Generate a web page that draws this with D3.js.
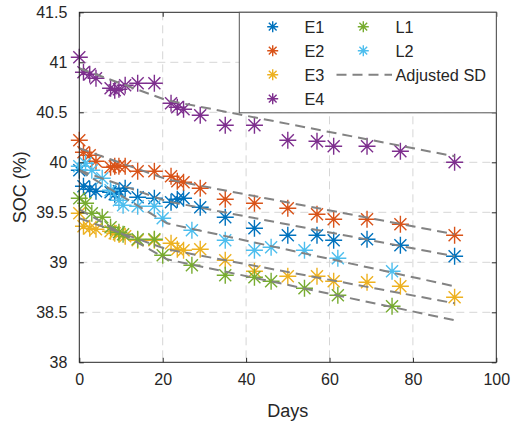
<!DOCTYPE html>
<html>
<head>
<meta charset="utf-8">
<script src="https://cdn.jsdelivr.net/npm/d3@7"></script>
<style>
    body { margin: 0; background: #fff; }
    text { font-family: "Liberation Sans", Arial, sans-serif; fill: #262626; }
</style>
</head>
<body>
<div id="chart"></div>
<script>

// Data ///////////////////////////////////////////////////////////////////////

const daysE = [0, 1, 2.5, 4, 7.5, 8.5, 9.5, 11, 14, 18, 22, 23.5, 25, 29, 35, 42, 50, 57, 61, 69, 77, 90];
const daysL = [0, 1.5, 3, 5.5, 7.5, 9.5, 10.5, 14, 18, 20, 27, 35, 42, 46, 54, 62, 75];

const socE1 = [39.92, 39.76, 39.73, 39.71, 39.70, 39.68, 39.71, 39.74, 39.65, 39.64, 39.60, 39.63, 39.64, 39.55, 39.45, 39.34, 39.27, 39.27, 39.22, 39.23, 39.17, 39.06];
const socE2 = [40.22, 40.10, 40.07, 40.01, 39.95, 39.96, 39.96, 39.96, 39.91, 39.91, 39.86, 39.81, 39.80, 39.74, 39.63, 39.59, 39.54, 39.48, 39.43, 39.43, 39.38, 39.27];
const socE3 = [39.49, 39.36, 39.34, 39.33, 39.31, 39.29, 39.28, 39.26, 39.22, 39.22, 39.19, 39.13, 39.12, 39.13, 39.02, 38.91, 38.86, 38.86, 38.81, 38.80, 38.76, 38.65];
const socE4 = [41.05, 40.90, 40.88, 40.84, 40.74, 40.72, 40.73, 40.77, 40.79, 40.79, 40.59, 40.55, 40.53, 40.47, 40.37, 40.37, 40.22, 40.21, 40.16, 40.16, 40.11, 40.00];
const socL1 = [39.64, 39.59, 39.49, 39.45, 39.35, 39.30, 39.28, 39.23, 39.23, 39.07, 38.97, 38.87, 38.85, 38.81, 38.74, 38.67, 38.56];
const socL2 = [39.96, 39.99, 39.92, 39.84, 39.72, 39.62, 39.57, 39.56, 39.56, 39.44, 39.32, 39.22, 39.12, 39.15, 39.12, 39.04, 38.91];

// Adjusted SD curves, read at these days
const sdDays = [0, 21, 90];
const sdE1 = [39.92, 39.61, 39.06];
const sdE2 = [40.14, 39.83, 39.28];
const sdE3 = [39.44, 39.13, 38.59];
const sdE4 = [40.94, 40.62, 40.06];
const sdL1 = [39.53, 39.03, 38.42];
const sdL2 = [39.92, 39.39, 38.76];

const xTicks = [0, 20, 40, 60, 80, 100];
const yTicks = [38, 38.5, 39, 39.5, 40, 40.5, 41, 41.5];

const series = [
    { name: "E1", days: daysE, soc: socE1, sd: sdE1, color: "#0072BD" },
    { name: "E2", days: daysE, soc: socE2, sd: sdE2, color: "#D95319" },
    { name: "E3", days: daysE, soc: socE3, sd: sdE3, color: "#EDB120" },
    { name: "E4", days: daysE, soc: socE4, sd: sdE4, color: "#7E2F8E" },
    { name: "L1", days: daysL, soc: socL1, sd: sdL1, color: "#77AC30" },
    { name: "L2", days: daysL, soc: socL2, sd: sdL2, color: "#4DBEEE" }
];


// Layout /////////////////////////////////////////////////////////////////////

const params = {
    width: 512,
    height: 423,
    left: 79.3,
    right: 496.3,
    top: 12.3,
    bottom: 362.3,
    markerR: 8.5,
    axisColor: "#262626",
    gridColor: "#d6d6d6",
    sdColor: "#838383"
};

const x = d3.scaleLinear().domain([0, 100]).range([params.left, params.right]);
const y = d3.scaleLinear().domain([38, 41.5]).range([params.bottom, params.top]);

const svg = d3.select("#chart")
    .append("svg")
        .attr("width", params.width)
        .attr("height", params.height)
        .attr("viewBox", [0, 0, params.width, params.height]);

const asterisk = r => {
    const d = r * 0.7071;
    return `M${-r},0L${r},0M0,${-r}L0,${r}M${-d},${-d}L${d},${d}M${-d},${d}L${d},${-d}`;
};

// Grid ///////////////////////////////////////////////////////////////////////

const grid = svg.append("g")
    .attr("stroke", params.gridColor)
    .attr("stroke-width", 1)
    .attr("stroke-dasharray", "8,5");

grid.selectAll(".gx")
    .data(xTicks.slice(1, -1))
    .join("line")
    .attr("x1", d => x(d)).attr("x2", d => x(d))
    .attr("y1", params.top).attr("y2", params.bottom);

grid.selectAll(".gy")
    .data(yTicks.slice(1, -1))
    .join("line")
    .attr("y1", d => y(d)).attr("y2", d => y(d))
    .attr("x1", params.left).attr("x2", params.right);

// Points and adjusted SD lines ///////////////////////////////////////////////

series.forEach(s => {
    svg.append("g")
        .selectAll("path")
        .data(s.days.map((d, i) => [d, s.soc[i]]))
        .join("path")
        .attr("transform", d => `translate(${x(d[0])},${y(d[1])})`)
        .attr("d", asterisk(params.markerR))
        .attr("stroke", s.color)
        .attr("stroke-width", 1.4)
        .attr("fill", "none");
});

const line = d3.line().x(d => x(d[0])).y(d => y(d[1]));

svg.append("g")
    .selectAll("path")
    .data(series)
    .join("path")
    .attr("d", s => line(sdDays.map((d, i) => [d, s.sd[i]])))
    .attr("fill", "none")
    .attr("stroke", params.sdColor)
    .attr("stroke-width", 2)
    .attr("stroke-dasharray", "10,6");

// Axes ///////////////////////////////////////////////////////////////////////

const tickLen = 4.5;

svg.append("g")
    .attr("transform", `translate(0,${params.bottom})`)
    .call(d3.axisBottom(x).tickValues(xTicks).tickSizeInner(-tickLen).tickSizeOuter(0).tickPadding(11))
    .call(g => g.select(".domain").remove())
    .call(g => g.selectAll("line").attr("stroke", params.axisColor))
    .call(g => g.selectAll("text").attr("font-size", 16).attr("fill", params.axisColor).attr("font-family", null));

svg.append("g")
    .attr("transform", `translate(0,${params.top})`)
    .call(d3.axisTop(x).tickValues(xTicks).tickSizeInner(-tickLen).tickSizeOuter(0).tickFormat(""))
    .call(g => g.select(".domain").remove())
    .call(g => g.selectAll("line").attr("stroke", params.axisColor));

svg.append("g")
    .attr("transform", `translate(${params.left},0)`)
    .call(d3.axisLeft(y).tickValues(yTicks).tickSizeInner(-tickLen).tickSizeOuter(0).tickPadding(12)
        .tickFormat(d3.format("~g")))
    .call(g => g.select(".domain").remove())
    .call(g => g.selectAll("line").attr("stroke", params.axisColor))
    .call(g => g.selectAll("text").attr("font-size", 16).attr("fill", params.axisColor).attr("font-family", null));

svg.append("g")
    .attr("transform", `translate(${params.right},0)`)
    .call(d3.axisRight(y).tickValues(yTicks).tickSizeInner(-tickLen).tickSizeOuter(0).tickFormat(""))
    .call(g => g.select(".domain").remove())
    .call(g => g.selectAll("line").attr("stroke", params.axisColor));

svg.append("rect")
    .attr("x", params.left)
    .attr("y", params.top)
    .attr("width", params.right - params.left)
    .attr("height", params.bottom - params.top)
    .attr("fill", "none")
    .attr("stroke", params.axisColor)
    .attr("stroke-width", 1);

svg.append("text")
    .attr("x", (params.left + params.right) / 2)
    .attr("y", 417)
    .attr("text-anchor", "middle")
    .attr("font-size", 18)
    .text("Days");

svg.append("text")
    .attr("transform", `translate(26,${(params.top + params.bottom) / 2}) rotate(-90)`)
    .attr("text-anchor", "middle")
    .attr("font-size", 18)
    .text("SOC (%)");

// Legend /////////////////////////////////////////////////////////////////////

const legend = svg.append("g");

legend.append("rect")
    .attr("x", 239.3)
    .attr("y", params.top)
    .attr("width", params.right - 239.3)
    .attr("height", 100.5)
    .attr("fill", "#fff")
    .attr("stroke", "#555")
    .attr("stroke-width", 1);

const legendItems = series.map((s, i) => ({
    s,
    col: i < 4 ? 0 : 1,
    row: i < 4 ? i : i - 4
}));

const colMarker = [272.7, 363.3];
const colText = [304.5, 395.5];
const rowY = r => 26.7 + r * 24;

legend.selectAll(".lm")
    .data(legendItems)
    .join("path")
    .attr("transform", d => `translate(${colMarker[d.col]},${rowY(d.row)})`)
    .attr("d", asterisk(5.5))
    .attr("stroke", d => d.s.color)
    .attr("stroke-width", 1.4)
    .attr("fill", "none");

legend.selectAll(".lt")
    .data(legendItems)
    .join("text")
    .attr("x", d => colText[d.col])
    .attr("y", d => rowY(d.row) + 5.8)
    .attr("font-size", 16.3)
    .text(d => d.s.name);

legend.append("line")
    .attr("x1", 336.5).attr("x2", 392)
    .attr("y1", rowY(2)).attr("y2", rowY(2))
    .attr("stroke", params.sdColor)
    .attr("stroke-width", 2)
    .attr("stroke-dasharray", "10,6");

legend.append("text")
    .attr("x", colText[1])
    .attr("y", rowY(2) + 5.8)
    .attr("font-size", 16.3)
    .text("Adjusted SD");

</script>
</body>
</html>
